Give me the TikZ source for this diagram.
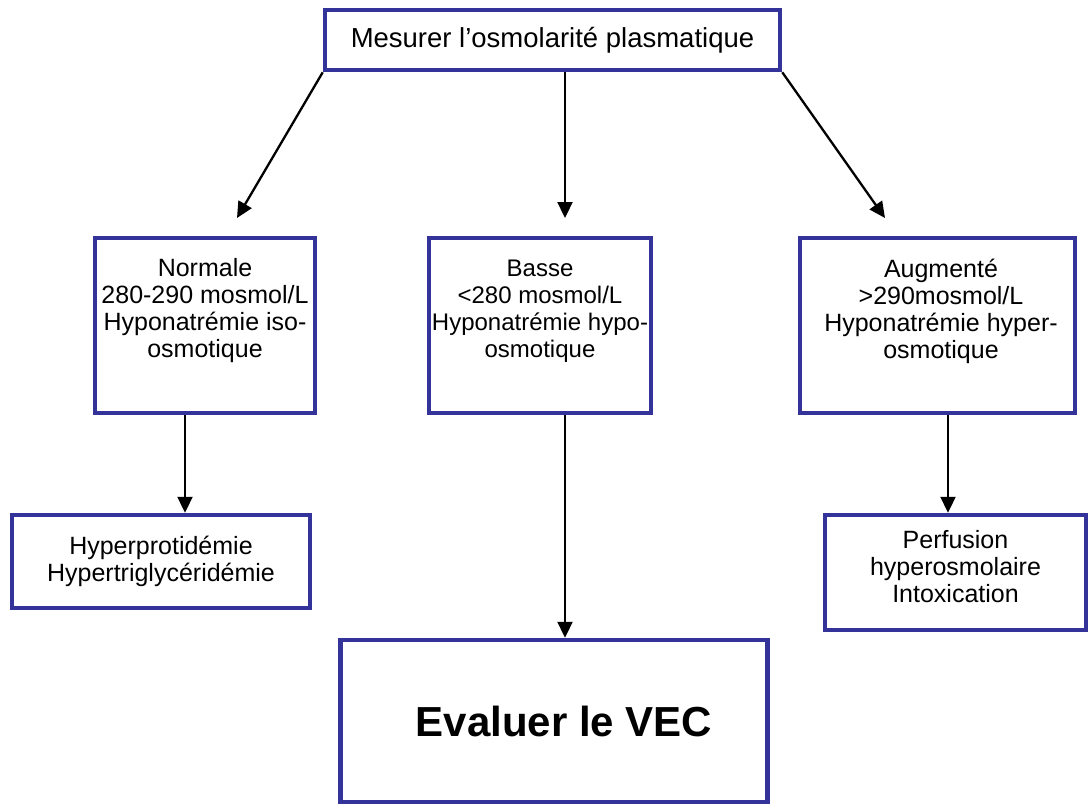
\documentclass[tikz,border=0pt]{standalone}
\usepackage{fontspec}
\setmainfont{Liberation Sans}
\usetikzlibrary{arrows.meta}
\definecolor{boxblue}{RGB}{51,51,153}
\begin{document}
\begin{tikzpicture}[x=1pt,y=-1pt,
  box/.style={draw=boxblue, line width=4.5pt, fill=white, inner sep=0pt, align=center,
    font=\fontsize{25}{27}\selectfont},
  txt/.style={inner sep=0pt, align=center, font=\fontsize{25}{27}\selectfont},
  arr/.style={line width=2.3pt, -{Triangle[length=16pt,width=15pt]}}]
\useasboundingbox (0,0) rectangle (1088,804);
\clip (0,0) rectangle (1088,804);
\node[box, minimum width=455pt, minimum height=60pt, font=\fontsize{27.5}{30}\selectfont] (top) at (552.5,40) {Mesurer l’osmolarité plasmatique};
\node[box, minimum width=220pt, minimum height=175pt] (normale) at (205,325.5) {};
\node[txt] (normaleT) at (205,311) {Normale\\280-290 mosmol/L\\Hyponatrémie iso-\\osmotique};
\node[box, minimum width=222pt, minimum height=175pt] (basse) at (540,325.5) {};
\node[txt, font=\fontsize{24}{27}\selectfont] (basseT) at (540,311) {Basse\\<280 mosmol/L\\Hyponatrémie hypo-\\osmotique};
\node[box, minimum width=275pt, minimum height=175pt] (augm) at (937.5,325.5) {};
\node[txt] (augmT) at (941,311) {Augmenté\\>290mosmol/L\\Hyponatrémie hyper-\\osmotique};
\node[box, minimum width=298pt, minimum height=93pt] (hyper) at (161,561.5) {Hyperprotidémie\\Hypertriglycéridémie};
\node[box, minimum width=261pt, minimum height=115pt] (perf) at (955.5,572.5) {};
\node[txt] (perfT) at (955.5,567) {Perfusion\\hyperosmolaire\\Intoxication};
\node[box, minimum width=427pt, minimum height=162pt] (vec) at (554,721) {};
\node[txt, font=\fontsize{42}{48}\selectfont\bfseries] (vecT) at (564,721) {Evaluer le VEC};
\coordinate (e1) at (237,218);
\coordinate (e2) at (565,218);
\coordinate (e3) at (885,218);
\draw[arr] (top.south west) -- (e1);
\draw[arr] (top.south -| e2) -- (e2);
\draw[arr] (top.south east) -- (e3);
\draw[arr] (normale.south -| 185,0) -- (hyper.north -| 185,0);
\draw[arr] (basse.south -| 565,0) -- (vec.north -| 565,0);
\draw[arr] (augm.south -| 948,0) -- (perf.north -| 948,0);
\end{tikzpicture}
\end{document}
